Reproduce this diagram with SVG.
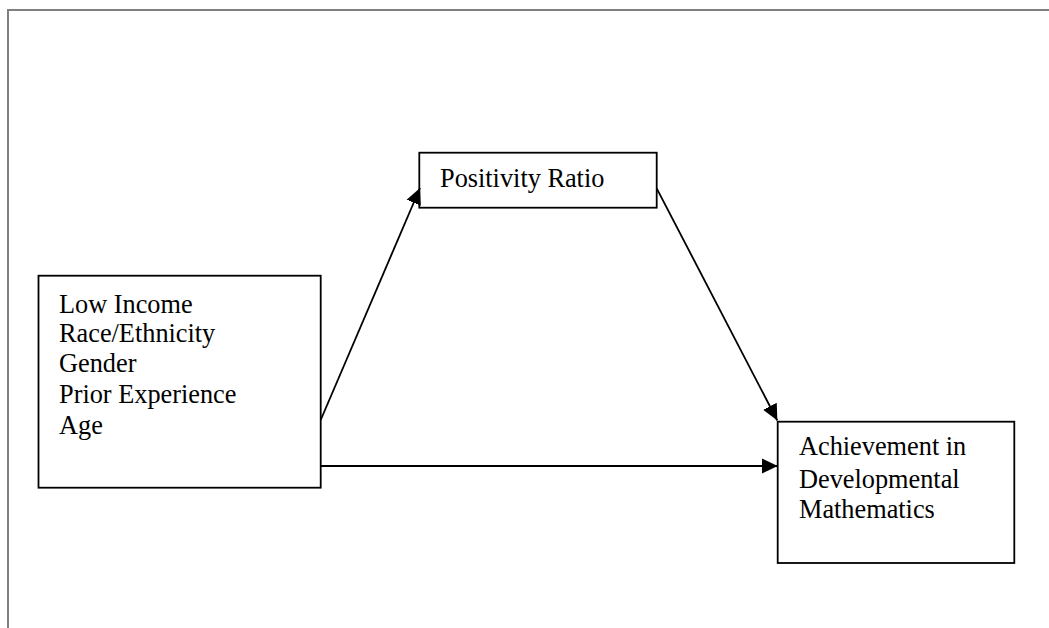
<svg xmlns="http://www.w3.org/2000/svg" width="1049" height="628" viewBox="0 0 1049 628">
<defs>
<style>
.box{fill:#fff;stroke:#000;stroke-width:1.8}
.t{font-family:"Liberation Serif","Times New Roman",serif;font-size:26.3px;fill:#000}
.c{stroke:#000;stroke-width:1.8;fill:none}
</style>
<marker id="ah" viewBox="0 0 16 16" refX="16" refY="8" markerWidth="16" markerHeight="16" markerUnits="userSpaceOnUse" orient="auto">
<path d="M0,0.3 L16,8 L0,15.7 Z" fill="#000"/>
</marker>
</defs>
<rect width="1049" height="628" fill="#fff"/>
<path d="M8,628 V10 H1049" fill="none" stroke="#808080" stroke-width="2"/>
<g id="factors">
<rect class="box" x="38.5" y="275.7" width="282.2" height="212"/>
<text class="t" x="59" y="312.5">Low Income</text>
<text class="t" x="59" y="342">Race/Ethnicity</text>
<text class="t" x="59" y="372">Gender</text>
<text class="t" x="59" y="403">Prior Experience</text>
<text class="t" x="59" y="434">Age</text>
</g>
<g id="positivity">
<rect class="box" x="419.3" y="152.7" width="237.4" height="55"/>
<text class="t" x="440" y="186.7">Positivity Ratio</text>
</g>
<g id="achievement">
<rect class="box" x="777.7" y="421.7" width="236.6" height="141.3"/>
<text class="t" x="799" y="455">Achievement in</text>
<text class="t" x="799" y="488.3">Developmental</text>
<text class="t" x="799" y="517.7">Mathematics</text>
</g>
<g id="connectors">
<line class="c" x1="320.7" y1="420" x2="420" y2="188" marker-end="url(#ah)"/>
<line class="c" x1="656.7" y1="188.3" x2="777.3" y2="420.5" marker-end="url(#ah)"/>
<line class="c" x1="320.7" y1="466" x2="777.7" y2="466" marker-end="url(#ah)"/>
</g>
</svg>
